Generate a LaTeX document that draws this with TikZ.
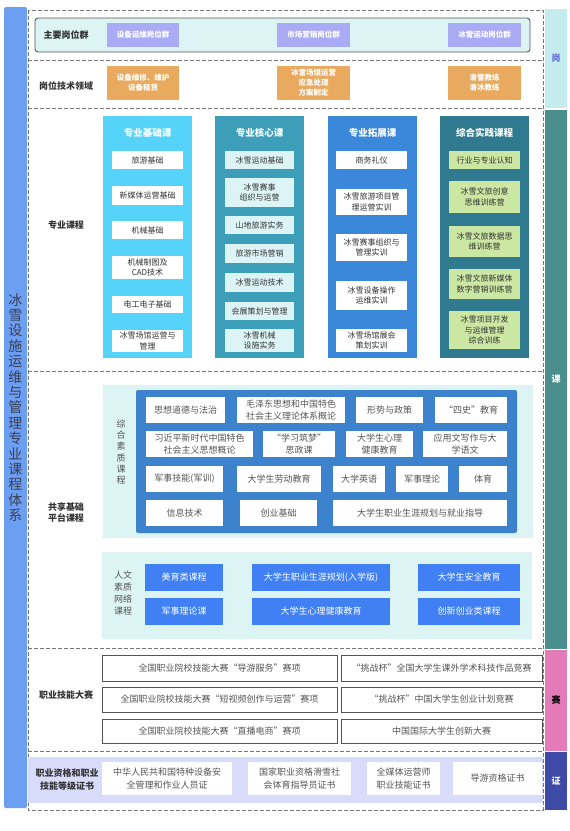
\documentclass[tikz,border=0pt]{standalone}
\usepackage{fontspec}
\setmainfont{Noto Sans CJK SC}
\usepackage{tikz}

\definecolor{barblue}{HTML}{6C9EF2}
\definecolor{bartxt}{HTML}{3A3F55}
\definecolor{panelcyan}{HTML}{DDF4F4}
\definecolor{lav}{HTML}{A9ACF5}
\definecolor{orng}{HTML}{E9A95E}
\definecolor{cA}{HTML}{56D3F8}
\definecolor{cB}{HTML}{3C9EB8}
\definecolor{cC}{HTML}{3B87D9}
\definecolor{cD}{HTML}{2F7A8E}
\definecolor{itemcyan}{HTML}{DDF4F6}
\definecolor{itemgreen}{HTML}{CBE7A3}
\definecolor{innerblue}{HTML}{3D82CC}
\definecolor{netblue}{HTML}{4080F4}
\definecolor{bandlav}{HTML}{D9DBFB}
\definecolor{sgang}{HTML}{C4ECEE}
\definecolor{sgangtxt}{HTML}{6A72DE}
\definecolor{ske}{HTML}{4A8E8E}
\definecolor{ssai}{HTML}{E27BB8}
\definecolor{szheng}{HTML}{3E4BA6}
\definecolor{dashcol}{HTML}{777777}
\definecolor{brd}{HTML}{555555}
\definecolor{txt}{HTML}{333333}
\definecolor{txtm}{HTML}{555555}

\newcommand\bx[7]{\node[#2,minimum width={(#5)-(#3)},minimum height={(#6)-(#4)}] (#1) at ({((#3)+(#5))/2},{((#4)+(#6))/2}) {#7};}

\begin{document}
\begin{tikzpicture}[x=1pt, y=1pt, yscale=-1,
  bx/.style={inner sep=0pt, outer sep=0pt, align=center, text=txt, font=\fontsize{8}{10.5}\selectfont},
  postbox/.style={bx, fill=lav, text=white, font=\bfseries\fontsize{7.5}{9}\selectfont},
  fieldbox/.style={bx, fill=orng, text=white, font=\bfseries\fontsize{7.5}{10}\selectfont},
  lbl/.style={align=center, text=txt, font=\bfseries\fontsize{9}{11}\selectfont},
  colhead/.style={text=white, font=\bfseries\fontsize{9.5}{11}\selectfont},
  itemw/.style={bx, fill=white},
  itemc/.style={bx, fill=itemcyan},
  itemg/.style={bx, fill=itemgreen},
  panel/.style={bx, fill=panelcyan},
  vlbl/.style={align=center, text=txtm, font=\fontsize{9}{11.2}\selectfont},
  sqbox/.style={bx, fill=white, text=txtm, font=\fontsize{9}{11.5}\selectfont},
  netbox/.style={bx, fill=netblue, text=white, font=\fontsize{9}{11}\selectfont},
  contest/.style={bx, draw=brd, line width=0.8pt, fill=white, text=txtm, font=\fontsize{9}{11}\selectfont},
  cert/.style={bx, fill=white, text=txtm, font=\fontsize{9}{12.5}\selectfont},
  sidebar/.style={bx, font=\bfseries\fontsize{9}{11}\selectfont},
  cutline/.style={dashcol, line width=0.8pt, dash pattern=on 4pt off 2pt}]
\useasboundingbox (0,0) rectangle (570,831);

\draw[cutline] (28,10) rectangle (543,810);
\draw[cutline] (28,60) -- (543,60);
\draw[cutline] (28,108) -- (543,108);
\draw[cutline] (28,371) -- (543,371);
\draw[cutline] (28,648) -- (543,648);
\draw[cutline] (28,751) -- (543,751);

\bx{bar}{bx, fill=barblue, rounded corners=2pt, text=bartxt, font=\fontsize{14}{15.4}\selectfont}{4}{7}{27}{808}{冰\\雪\\设\\施\\运\\维\\与\\管\\理\\专\\业\\课\\程\\体\\系}

\bx{sgang}{sidebar, fill=sgang, text=sgangtxt}{545}{9}{567}{108}{岗}
\bx{ske}{sidebar, fill=ske, text=white}{545}{110}{567}{649}{课}
\bx{ssai}{sidebar, fill=ssai, text=black}{545}{650}{567}{751}{赛}
\bx{szheng}{sidebar, fill=szheng, text=white}{545}{752}{567}{810}{证}

\bx{rowg}{bx, fill=panelcyan, draw=brd, line width=0.9pt, rounded corners=3pt}{35}{18}{530}{52}{}
\node[lbl] (lg) at (66,35) {主要岗位群};
\bx{g1}{postbox}{107}{23}{179}{47}{设备运维岗位群}
\bx{g2}{postbox}{277}{23}{350}{47}{市场营销岗位群}
\bx{g3}{postbox}{448}{23}{521}{47}{冰雪运动岗位群}

\node[lbl] (lf) at (66,86) {岗位技术领域};
\bx{f1}{fieldbox}{107}{66}{179}{100}{设备维修、维护\\设备租赁}
\bx{f2}{fieldbox}{277}{66}{350}{100}{冰雪场馆运营\\应急处理\\方案制定}
\bx{f3}{fieldbox}{448}{66}{521}{100}{滑雪教练\\滑冰教练}

\node[lbl] (lk) at (66,225) {专业课程};
\bx{colA}{bx, fill=cA}{103}{116}{192}{358}{}
\bx{colB}{bx, fill=cB}{215}{116}{304}{358}{}
\bx{colC}{bx, fill=cC}{328}{116}{417}{358}{}
\bx{colD}{bx, fill=cD}{440}{116}{529}{358}{}
\node[colhead] (hA) at (147.5,133) {专业基础课};
\node[colhead] (hB) at (259.5,133) {专业核心课};
\node[colhead] (hC) at (372.5,133) {专业拓展课};
\node[colhead] (hD) at (484.5,133) {综合实践课程};

\bx{a1}{itemw}{112}{151}{183}{169}{旅游基础}
\bx{a2}{itemw}{112}{186}{183}{205}{新媒体运营基础}
\bx{a3}{itemw}{112}{221}{183}{239}{机械基础}
\bx{a4}{itemw}{112}{256}{183}{279}{机械制图及\\CAD技术}
\bx{a5}{itemw}{112}{296}{183}{313}{电工电子基础}
\bx{a6}{itemw}{112}{330}{183}{352}{冰雪场馆运营与\\管理}

\bx{b1}{itemc}{225}{151}{294}{169}{冰雪运动基础}
\bx{b2}{itemc}{225}{178}{294}{207}{冰雪赛事\\组织与运营}
\bx{b3}{itemc}{225}{216}{294}{234}{山地旅游实务}
\bx{b4}{itemc}{225}{244}{294}{263}{旅游市场营销}
\bx{b5}{itemc}{225}{273}{294}{292}{冰雪运动技术}
\bx{b6}{itemc}{225}{302}{294}{320}{会展策划与管理}
\bx{b7}{itemc}{225}{329}{294}{352}{冰雪机械\\设施实务}

\bx{c1}{itemw}{336}{151}{407}{169}{商务礼仪}
\bx{c2}{itemw}{336}{189}{407}{215}{冰雪旅游项目管\\理运营实训}
\bx{c3}{itemw}{336}{234}{407}{261}{冰雪赛事组织与\\管理实训}
\bx{c4}{itemw}{336}{281}{407}{310}{冰雪设备操作\\运维实训}
\bx{c5}{itemw}{336}{329}{407}{352}{冰雪场馆展会\\策划实训}

\bx{d1}{itemg}{449}{151}{520}{169}{行业与专业认知}
\bx{d2}{itemg}{449}{181}{520}{213}{冰雪文旅创意\\思维训练营}
\bx{d3}{itemg}{449}{226}{520}{257}{冰雪文旅数据思\\维训练营}
\bx{d4}{itemg}{449}{269}{520}{299}{冰雪文旅新媒体\\数字营销训练营}
\bx{d5}{itemg}{449}{311}{520}{349}{冰雪项目开发\\与运维管理\\综合训练}

\node[lbl] (ls) at (66,513) {共享基础\\平台课程};
\bx{pz}{panel}{103}{385}{533}{538}{}
\bx{pzin}{bx, fill=innerblue, rounded corners=2pt}{136}{390}{517}{533}{}
\node[vlbl] (lz) at (121,452) {综\\合\\素\\质\\课\\程};

\bx{z1}{sqbox}{146}{397}{225}{423}{思想道德与法治}
\bx{z2}{sqbox}{237}{397}{345}{423}{毛泽东思想和中国特色\\社会主义理论体系概论}
\bx{z3}{sqbox}{356}{397}{423}{423}{形势与政策}
\bx{z4}{sqbox}{435}{397}{507}{423}{“四史”教育}
\bx{z5}{sqbox}{146}{431}{253}{457}{习近平新时代中国特色\\社会主义思想概论}
\bx{z6}{sqbox}{263}{431}{335}{457}{“学习筑梦”\\思政课}
\bx{z7}{sqbox}{346}{431}{413}{457}{大学生心理\\健康教育}
\bx{z8}{sqbox}{423}{431}{507}{457}{应用文写作与大\\学语文}
\bx{z9}{sqbox}{146}{466}{223}{492}{军事技能(军训)}
\bx{z10}{sqbox}{237}{466}{321}{492}{大学生劳动教育}
\bx{z11}{sqbox}{333}{466}{385}{492}{大学英语}
\bx{z12}{sqbox}{396}{466}{448}{492}{军事理论}
\bx{z13}{sqbox}{459}{466}{507}{492}{体育}
\bx{z14}{sqbox}{146}{500}{223}{526}{信息技术}
\bx{z15}{sqbox}{240}{500}{317}{526}{创业基础}
\bx{z16}{sqbox}{333}{500}{507}{526}{大学生职业生涯规划与就业指导}

\bx{pn}{panel}{102}{552}{532}{639}{}
\node[vlbl, font=\fontsize{9}{12}\selectfont] (ln) at (123,593) {人文\\素质\\网络\\课程};
\bx{n1}{netbox}{145}{564}{223}{591}{美育类课程}
\bx{n2}{netbox}{252}{564}{390}{591}{大学生职业生涯规划(入学版)}
\bx{n3}{netbox}{418}{564}{520}{591}{大学生安全教育}
\bx{n4}{netbox}{145}{598}{223}{625}{军事理论课}
\bx{n5}{netbox}{252}{598}{390}{625}{大学生心理健康教育}
\bx{n6}{netbox}{418}{598}{520}{625}{创新创业类课程}

\node[lbl] (lj) at (66,695) {职业技能大赛};
\bx{j1}{contest}{102}{655}{337}{681}{全国职业院校技能大赛“导游服务”赛项}
\bx{j2}{contest}{102}{687}{337}{712}{全国职业院校技能大赛“短视频创作与运营”赛项}
\bx{j3}{contest}{102}{719}{337}{743}{全国职业院校技能大赛“直播电商”赛项}
\bx{j4}{contest}{341}{655}{542}{681}{“挑战杯”全国大学生课外学术科技作品竞赛}
\bx{j5}{contest}{341}{687}{542}{712}{“挑战杯”中国大学生创业计划竞赛}
\bx{j6}{contest}{341}{719}{542}{743}{中国国际大学生创新大赛}

\bx{band}{bx, fill=bandlav}{28}{757}{543}{803}{}
\node[lbl, font=\bfseries\fontsize{9}{13}\selectfont] (lc) at (67,780) {职业资格和职业\\技能等级证书};
\bx{e1}{cert}{102}{762}{232}{795}{中华人民共和国特种设备安\\全管理和作业人员证}
\bx{e2}{cert}{248}{762}{351}{795}{国家职业资格滑雪社\\会体育指导员证书}
\bx{e3}{cert}{367}{762}{440}{795}{全媒体运营师\\职业技能证书}
\bx{e4}{cert}{453}{762}{542}{795}{导游资格证书}
\end{tikzpicture}
\end{document}
